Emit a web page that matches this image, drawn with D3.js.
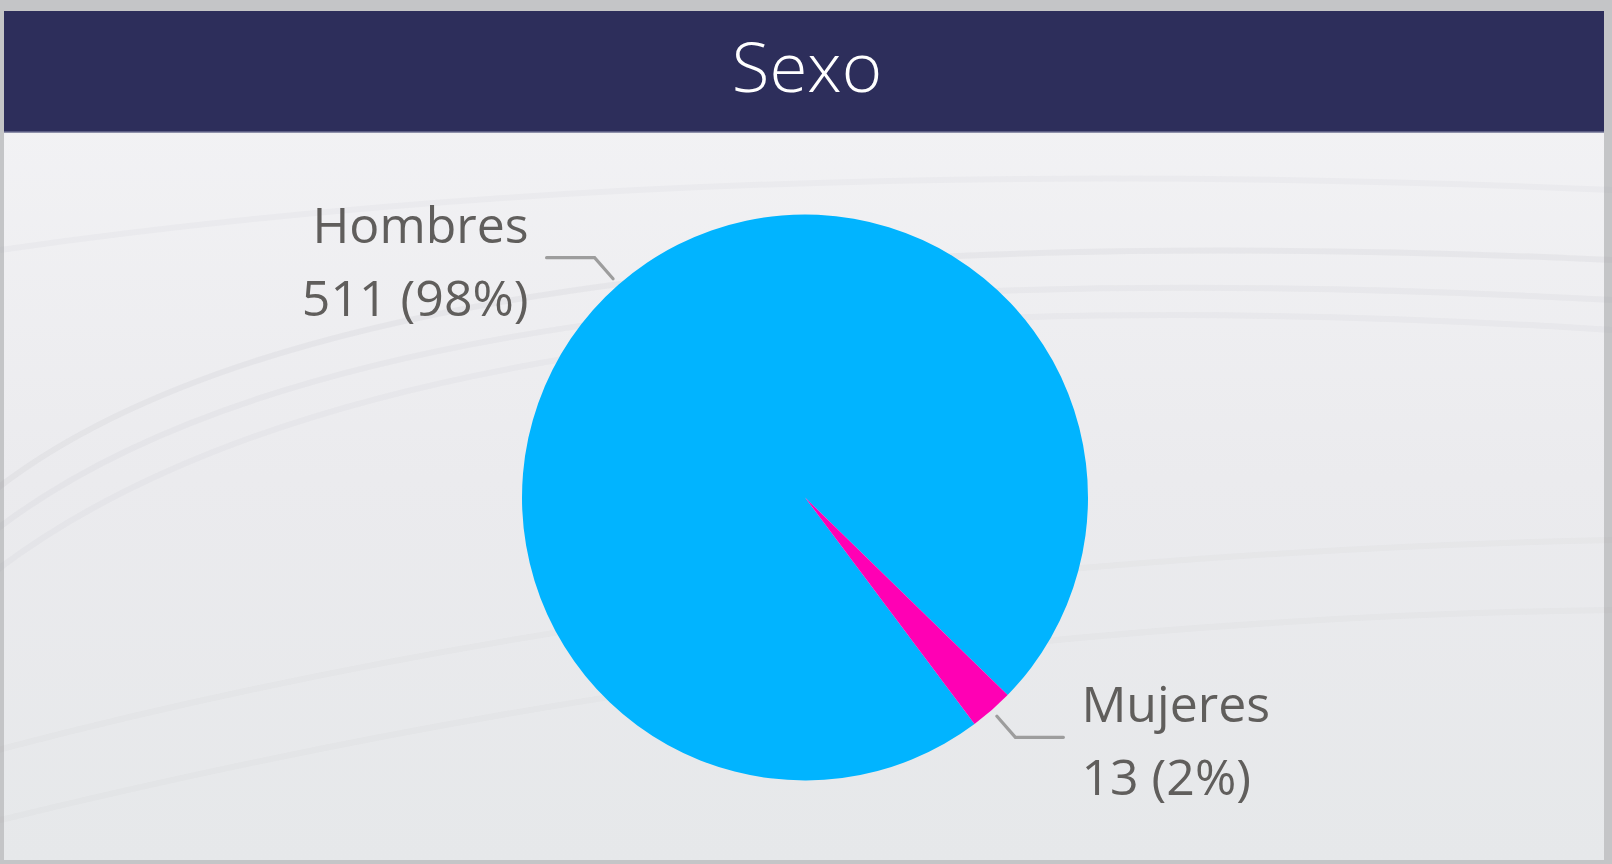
<html>
<head>
    <title>Sexo</title>
    <script src="https://d3js.org/d3.v7.min.js"></script>
    <style>
        body { margin: 0; background: #c4c5c7; overflow: hidden; }
        text { font-family: "Segoe UI", "Open Sans", "Noto Sans", sans-serif; }
    </style>
</head>
<body>
<div id="PieChart"></div>
<script type="text/javascript">
    // data
    var categories = ["Hombres", "Mujeres"];
    var counts = [511, 13];
    var sliceColors = ["#01b4ff", "#ff00b4"];
    var title = "Sexo";

    var width = 1612, height = 864;
    var panel = {x: 4, y: 11, w: 1600, h: 849};
    var header = 121;

    var svg = d3.select("#PieChart").append("svg")
        .attr("width", width)
        .attr("height", height);

    var defs = svg.append("defs");
    var bg = defs.append("linearGradient").attr("id", "bg")
        .attr("x1", 0).attr("y1", 0).attr("x2", 0).attr("y2", 1);
    bg.append("stop").attr("offset", "0%").attr("stop-color", "#f4f4f6");
    bg.append("stop").attr("offset", "55%").attr("stop-color", "#ebebee");
    bg.append("stop").attr("offset", "100%").attr("stop-color", "#e6e8ea");

    // panel background
    svg.append("rect")
        .attr("x", panel.x).attr("y", panel.y)
        .attr("width", panel.w).attr("height", panel.h)
        .attr("fill", "url(#bg)");

    // faint wallpaper streaks
    var streaks = svg.append("g").attr("fill", "none").attr("stroke", "#9c9ea3");
    [[-40, 520, 300, 200, 1612, 260, 0.10],
     [-40, 560, 320, 230, 1612, 300, 0.08],
     [-40, 600, 360, 250, 1612, 330, 0.07],
     [0, 250, 700, 150, 1612, 190, 0.06],
     [-40, 760, 700, 560, 1612, 540, 0.05],
     [-40, 830, 800, 620, 1612, 610, 0.05]].forEach(function (s) {
        streaks.append("path")
            .attr("d", "M" + s[0] + "," + s[1] + " Q" + s[2] + "," + s[3] + " " + s[4] + "," + s[5])
            .attr("stroke-width", 6)
            .attr("stroke-opacity", s[6]);
    });

    // header bar
    svg.append("rect")
        .attr("x", panel.x).attr("y", panel.y)
        .attr("width", panel.w).attr("height", header)
        .attr("fill", "#2d2e5b");
    svg.append("line")
        .attr("x1", panel.x).attr("x2", panel.x + panel.w)
        .attr("y1", panel.y + header).attr("y2", panel.y + header)
        .attr("stroke", "#6d6f92").attr("stroke-width", 1.5);

    svg.append("text")
        .attr("x", 807).attr("y", 92)
        .attr("text-anchor", "middle")
        .attr("fill", "#ffffff")
        .style("font-size", "69px")
        .style("font-weight", 300)
        .text(title);

    // pie
    var cx = 805, cy = 497.5, r = 283;
    var data = categories.map(function (c, i) { return {name: c, value: counts[i], color: sliceColors[i]}; });
    var total = d3.sum(counts);
    var startAngle = 143.2 * Math.PI / 180;

    var pie = d3.pie()
        .sort(null)
        .value(function (d) { return d.value; })
        .startAngle(startAngle)
        .endAngle(startAngle + 2 * Math.PI);

    var arc = d3.arc().innerRadius(0).outerRadius(r);
    var lineStart = d3.arc().innerRadius(r + 8).outerRadius(r + 8);
    var lineElbow = d3.arc().innerRadius(r + 36).outerRadius(r + 36);

    var g = svg.append("g").attr("transform", "translate(" + cx + "," + cy + ")");
    var arcs = pie(data);

    g.selectAll("path.slice")
        .data(arcs)
        .enter()
        .append("path")
        .attr("class", "slice")
        .attr("d", arc)
        .attr("fill", function (d) { return d.data.color; });

    var pct = d3.format(".0%");

    arcs.forEach(function (d) {
        var mid = (d.startAngle + d.endAngle) / 2;
        var side = Math.sin(mid) >= 0 ? 1 : -1;
        var p0 = lineStart.centroid(d);
        var p1 = lineElbow.centroid(d);
        var p2 = [p1[0] + side * 48, p1[1]];

        g.append("polyline")
            .attr("points", [p0, p1, p2].map(function (p) { return p.join(","); }).join(" "))
            .attr("fill", "none")
            .attr("stroke", "#9d9d9d")
            .attr("stroke-width", 3.2)
            .attr("stroke-linecap", "round");

        var label = g.append("text")
            .attr("text-anchor", side > 0 ? "start" : "end")
            .attr("fill", "#605e5c")
            .style("font-size", "50px");
        label.append("tspan")
            .attr("x", p2[0] + side * 18)
            .attr("y", p2[1] - 15)
            .text(d.data.name);
        label.append("tspan")
            .attr("x", p2[0] + side * 18)
            .attr("y", p2[1] + 58)
            .text(d.data.value + " (" + pct(d.data.value / total) + ")");
    });
</script>
</body>
</html>
